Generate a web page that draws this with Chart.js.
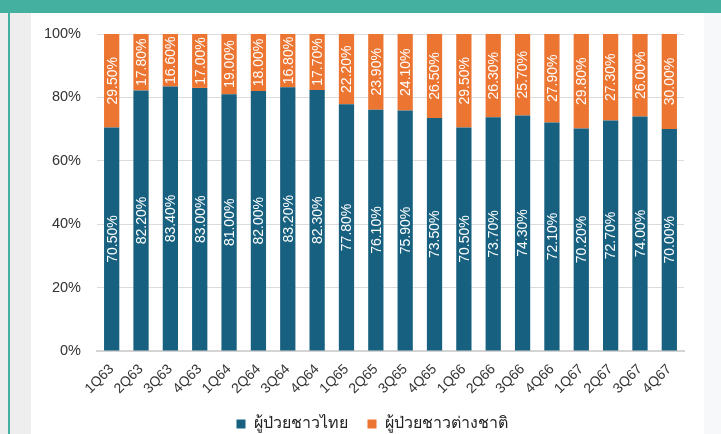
<!DOCTYPE html>
<html>
<head>
<meta charset="utf-8">
<script src="https://cdn.jsdelivr.net/npm/chart.js@4"></script>
<style>
  html, body { margin: 0; padding: 0; }
  body { width: 721px; height: 434px; position: relative; overflow: hidden; background: #eeeeee; }
  .topband { position: absolute; left: 0; top: 0; width: 721px; height: 13px; background: #44b09f; }
  .sideline { position: absolute; left: 8px; top: 13px; width: 2px; height: 421px; background: #44b09f; }
  .panel { position: absolute; left: 31px; top: 13px; width: 673px; height: 421px; background: #ffffff; }
  .rightpad { position: absolute; left: 704px; top: 13px; width: 17px; height: 421px; background: #f7f8f9; }
</style>
</head>
<body>
<div class="topband"></div>
<div class="sideline"></div>
<div class="rightpad"></div>
<div class="panel"><canvas id="shareChart" width="673" height="421"></canvas></div>
<script>
// ข้อมูลสัดส่วนผู้ป่วย
const quarters = ['1Q63', '2Q63', '3Q63', '4Q63', '1Q64', '2Q64', '3Q64', '4Q64', '1Q65', '2Q65',
                  '3Q65', '4Q65', '1Q66', '2Q66', '3Q66', '4Q66', '1Q67', '2Q67', '3Q67', '4Q67'];
const thaiPatients = [70.5, 82.2, 83.4, 83.0, 81.0, 82.0, 83.2, 82.3, 77.8, 76.1,
                      75.9, 73.5, 70.5, 73.7, 74.3, 72.1, 70.2, 72.7, 74.0, 70.0];
const foreignPatients = [29.5, 17.8, 16.6, 17.0, 19.0, 18.0, 16.8, 17.7, 22.2, 23.9,
                         24.1, 26.5, 29.5, 26.3, 25.7, 27.9, 29.8, 27.3, 26.0, 30.0];
const seriesNames = ['ผู้ป่วยชาวไทย', 'ผู้ป่วยชาวต่างชาติ'];
const yTicks = [0, 20, 40, 60, 80, 100];

const FONT = "'Liberation Sans', Arial, 'Noto Sans', sans-serif";

// ป้ายตัวเลขแนวตั้งในแท่ง
const barLabels = {
    id: 'barLabels',
    afterLayout(chart) {
        // ขยับ legend ให้ตรงกับภาพต้นฉบับ
        const lg = chart.legend;
        lg.top -= 3; lg.bottom -= 3;
        lg.left += 8; lg.right += 8;
    },
    afterDatasetsDraw(chart) {
        const ctx = chart.ctx;
        ctx.save();
        ctx.fillStyle = '#ffffff';
        ctx.font = '14px ' + FONT;
        ctx.textAlign = 'center';
        ctx.textBaseline = 'middle';
        chart.data.datasets.forEach((ds, i) => {
            const meta = chart.getDatasetMeta(i);
            meta.data.forEach((bar, j) => {
                const p = bar.getProps(['x', 'y', 'base'], true);
                ctx.save();
                ctx.translate(p.x, (p.y + p.base) / 2);
                ctx.rotate(-Math.PI / 2);
                ctx.fillText(ds.data[j].toFixed(2) + '%', 0, 1);
                ctx.restore();
            });
        });
        ctx.restore();
    }
};

const chartCanvas = document.getElementById('shareChart');
new Chart(chartCanvas.getContext('2d'), {
    type: 'bar',
    data: {
        labels: quarters,
        datasets: [{
            label: seriesNames[0],
            data: thaiPatients,
            backgroundColor: '#17607f'
        }, {
            label: seriesNames[1],
            data: foreignPatients,
            backgroundColor: '#ec7532'
        }]
    },
    options: {
        responsive: false,
        animation: false,
        layout: { padding: { left: 13, right: 20, top: 21, bottom: -11 } },
        datasets: {
            bar: { barPercentage: 1, categoryPercentage: 0.52 }
        },
        scales: {
            x: {
                stacked: true,
                grid: { display: false },
                border: { color: '#d4d4d4', width: 2 },
                afterFit: axis => { axis.height = 48; },
                ticks: {
                    minRotation: 45, maxRotation: 45,
                    color: '#333',
                    font: { family: FONT, size: 14 },
                    padding: 2
                }
            },
            y: {
                stacked: true,
                min: 0, max: 100,
                afterBuildTicks: axis => { axis.ticks = yTicks.map(v => ({ value: v })); },
                afterFit: axis => { axis.width = 53; },
                grid: { color: '#dcdcdc', lineWidth: 1, drawTicks: true, tickLength: 14, tickColor: 'rgba(0,0,0,0)' },
                border: { display: false },
                ticks: {
                    color: '#333',
                    padding: 2,
                    font: { family: FONT, size: 14.5 },
                    callback: v => v + '%'
                }
            }
        },
        plugins: {
            legend: {
                position: 'bottom',
                labels: {
                    boxWidth: 9, boxHeight: 9,
                    color: '#222',
                    padding: 20,
                    font: { family: FONT, size: 16 }
                }
            },
            tooltip: { enabled: false }
        }
    },
    plugins: [barLabels]
});
</script>
</body>
</html>
